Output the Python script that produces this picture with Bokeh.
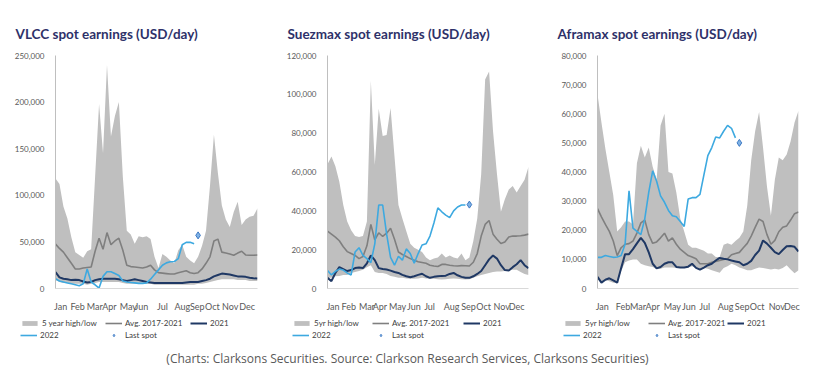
from bokeh.plotting import figure
from bokeh.models import Range1d, FixedTicker, NumeralTickFormatter, Legend, LegendItem
from bokeh.layouts import column, row
from bokeh.embed import file_html
from bokeh.resources import INLINE
from bokeh.core.properties import value

# ---------------- data (USD/day, thousands, weekly) ----------------
weeks = list(range(1, 53))
months = ["Jan", "Feb", "Mar", "Apr", "May", "Jun", "Jul", "Aug", "Sep", "Oct", "Nov", "Dec"]

vlcc_month_pos = [2.3, 6.6, 10.9, 14.6, 19.4, 22.7, 28, 33, 36.8, 40.6, 45.1, 49.4]
suez_month_pos = [2.4, 6.4, 11, 14.3, 18.8, 22.9, 26.9, 32.5, 36.8, 40.6, 45.2, 49]
afra_month_pos = [2.2, 7.5, 11.3, 15, 20, 24.2, 28.2, 33.5, 37.7, 41.5, 46.5, 50.3]

vlcc_high = [118, 112, 88, 75, 55, 39, 36, 33, 40, 42, 120, 198, 145, 240, 163, 185, 200, 120, 62, 58,
             48, 56, 55, 56, 53, 34, 22, 37, 34, 30, 27, 41, 47, 34, 30, 27, 34, 46, 62, 110,
             165, 124, 89, 74, 66, 82, 93, 68, 74, 77, 78, 86]
vlcc_low = [9, 7, 6, 6, 5, 5, 5, 5, 4, 5, 6, 7, 7, 7, 7, 7, 7, 6, 5, 5,
            5, 5, 5, 5, 5, 4, 4, 4, 4, 4, 4, 4, 4, 4, 4, 4, 5, 5, 6, 7,
            8, 9, 10, 10, 10, 10, 9, 9, 9, 8, 8, 8]
vlcc_avg = [47.7, 43, 39, 33, 27, 21, 21, 22, 22.5, 23, 40, 54, 42, 60, 47, 51, 54, 41, 25, 23.5,
            23, 22.5, 22, 23, 25, 20, 17, 16.5, 16, 15.5, 15.5, 17, 18, 19, 17, 16, 17, 21, 27, 34,
            51, 53, 39, 38, 37, 35.6, 38, 40, 36, 35.6, 35.6, 36]
vlcc_2021 = [17.6, 12, 10.4, 10, 9, 9.5, 9, 7.5, 6.5, 7, 9, 10, 10.5, 10.4, 10.4, 10.5, 10, 9, 8, 9,
             10, 9, 8, 7, 6.5, 6, 6, 6, 6, 6, 6, 6, 6, 6.5, 7, 7, 7, 8, 9, 10.5,
             13, 14.5, 16, 15.5, 15, 14, 13, 13, 12.5, 11.5, 11, 10.7]
vlcc_2022 = [10.4, 8, 7, 6, 5, 4, 3, 5, 21, 7, 4, 0.5, 13, 18, 18, 16, 14, 8, 7, 6.5,
             6, 5.5, 5.5, 6, 10, 15, 20, 25, 27.5, 28.7, 29, 32, 47, 49.5, 49.5, 48]
vlcc_last_week, vlcc_last = 37, 57

suez_high = [64, 68, 63, 55, 43, 34.5, 30, 27, 26.5, 27, 34.5, 107, 63.6, 92.6, 78.5, 79, 93, 68, 43, 36,
             29.5, 23, 21, 20, 18.8, 16, 14.6, 15.4, 16, 18, 16, 17, 16, 15.4, 18, 14.6, 16, 24.5, 36, 59,
             107.6, 111.7, 81, 59, 39.5, 46, 51, 52.8, 49.5, 52.8, 56, 62.7]
suez_low = [5.5, 5.5, 6.3, 6.5, 7, 7, 8, 8.5, 9, 9.6, 11, 12, 8.5, 8, 8, 7.5, 6.5, 6, 5.5, 5.5,
            5.2, 5, 5, 5.2, 5.5, 5.2, 5, 5, 4.8, 4.6, 4.8, 5, 5.2, 5, 4.8, 4.6, 4.8, 5.5, 6.3, 7,
            7.5, 8, 8.5, 8.8, 8.8, 9, 9.3, 9.6, 9.6, 8.5, 7.5, 7]
suez_avg = [29.5, 28, 26.5, 24.6, 21.5, 19, 18, 17, 15.4, 16.5, 22, 33, 25, 28.7, 26.8, 28.5, 31, 25.4, 18.8, 17.5,
            16.5, 15.4, 14.6, 13.8, 13.4, 13, 12, 11.6, 11.3, 12.4, 12.4, 12, 11.7, 11.6, 11.8, 11.7, 11.6, 13.5, 18, 27,
            33, 35, 28, 25.4, 23.2, 24, 26.5, 27, 27, 27.2, 27.5, 28]
suez_2021 = [5.5, 3.8, 8, 11, 10, 9, 9.5, 10.5, 10.8, 10.5, 13, 17, 14.6, 10.5, 10, 9.8, 9.2, 8.5, 8, 7,
             6.3, 5.8, 6.3, 7, 7.6, 6.3, 5.5, 6, 6.3, 6.5, 6.6, 7.5, 8, 6.8, 6, 5.5, 5.5, 6.3, 7.5, 9,
             12, 15, 17, 15.4, 12, 9.5, 9.3, 11, 12.5, 14.6, 12, 10.5]
suez_2022 = [9.3, 7, 8.8, 10, 9.5, 8, 7, 18.8, 21, 17, 15.4, 13.3, 23, 43, 43, 28, 16, 12, 16.6, 14.6,
             20.4, 18, 13, 18, 22.4, 23, 27, 33.7, 41.5, 39.5, 37.8, 36.5, 40, 42, 43, 43]
suez_last_week, suez_last = 37, 43.2

afra_high = [66.7, 57, 48, 40, 32, 19.6, 21, 23, 23, 22, 43, 49, 45, 48.4, 41.8, 37.3, 56, 60, 40, 39.5,
             33, 24, 19.6, 15, 14, 14, 13.5, 13, 12, 12, 10.8, 10.8, 15, 15.5, 15, 16.3, 17.4, 19.6, 28.5, 44,
             54, 60.6, 48.4, 35, 25, 37.3, 45, 44, 46, 50.6, 57, 61]
afra_low = [3.5, 2, 3, 2.5, 2, 2, 6, 9, 9.6, 10, 10, 8.5, 8, 7.6, 7.4, 6.8, 6.8, 7.2, 7.2, 7.2,
            7, 7, 7, 7.2, 7.6, 7, 6.4, 7, 6.8, 6.3, 5.8, 5.4, 7, 7.6, 8.5, 8, 7.2, 6.8, 6.3, 6.3,
            6.8, 7.2, 7, 6.8, 6.5, 6.8, 6.5, 7, 8, 6.5, 5.2, 6.3]
afra_avg = [27.4, 24.6, 22, 19.6, 16.3, 11.3, 14, 15.2, 15.4, 16.3, 19, 22.5, 23.5, 18.5, 15.5, 16, 17.4, 19, 16.3, 17.4,
            15.2, 13.5, 12.4, 11.3, 10.8, 10.2, 8.5, 8.5, 8.5, 9, 9.3, 9.6, 10, 10.2, 11.6, 12, 12.4, 14, 15.5, 18,
            21, 23.8, 23, 18.5, 15.2, 16.5, 19.5, 21, 21.5, 23.5, 25.7, 26.3]
afra_2021 = [4, 2, 3, 3.5, 2.8, 2, 7, 11.8, 11.8, 13.5, 15.5, 17.4, 15.7, 12.4, 8.5, 6.9, 7.4, 8.5, 9, 9,
             7.4, 7.2, 7.2, 7.5, 8.5, 7.1, 6.5, 7.2, 8, 8.5, 9.6, 10.5, 10.2, 10, 9.6, 9.3, 9, 8, 8.5, 9.5,
             11.5, 13, 16.5, 15.4, 14, 12.5, 11.8, 13.2, 14.5, 14.6, 14.3, 12.7]
afra_2022 = [10.7, 10.7, 11.3, 11, 10.7, 10.8, 11.3, 15.2, 33.5, 20.7, 19.6, 18.5, 24, 33, 40.4, 36.8, 31.8, 29.6, 26.8, 25,
             24.6, 23, 21.3, 30.7, 31.2, 31.2, 32.3, 39, 45.6, 48.4, 52, 51.7, 54, 56, 55, 51.7]
afra_last_week, afra_last = 37, 50

caption = "(Charts: Clarksons Securities. Source: Clarkson Research Services, Clarksons Securities)"

# ---------------- styling ----------------
BAND = "#BFBFBF"
AVG = "#7F7F7F"
C2021 = "#1F3864"
C2022 = "#3DA9E0"
TITLE_C = "#2E3169"
TICK_C = "#595959"
FONT = "Lato"
STY_BAND = dict(fill_color=BAND)
STY_AVG = dict(line_color=AVG, line_width=1.6)
STY_21 = dict(line_color=C2021, line_width=2)
STY_22 = dict(line_color=C2022, line_width=1.6)
STY_LAST = dict(marker="diamond", size=7, fill_color="#7FB2E5", line_color="#3C78C3", line_width=1)
NAN = [float("nan")]


def k(vals):
    return [v * 1000 for v in vals]


def panel(title, high, low, avg, y21, y22, lw, lv, ymax, ystep, month_pos, width, left, right):
    p = figure(width=width, height=314, output_backend="svg", toolbar_location=None,
               x_range=Range1d(1, 52), y_range=Range1d(0, ymax),
               min_border_left=left, min_border_right=right, min_border_top=55, min_border_bottom=18)
    p.outline_line_color = None
    p.grid.visible = False

    p.varea(x=weeks, y1=k(low), y2=k(high), **STY_BAND)
    p.line(weeks, k(avg), **STY_AVG)
    p.line(weeks, k(y21), **STY_21)
    p.line(weeks[:len(y22)], k(y22), **STY_22)
    p.scatter([lw], [lv * 1000], **STY_LAST)

    p.title.text = title
    p.title.text_font = FONT
    p.title.text_font_style = "bold"
    p.title.text_font_size = "13.5px"
    p.title.text_color = TITLE_C
    p.title.align = "left"
    p.title.offset = -40
    p.title.standoff = 27

    ya = p.yaxis[0]
    ya.ticker = FixedTicker(ticks=list(range(0, ymax + 1, ystep)))
    ya.formatter = NumeralTickFormatter(format="0,0")
    ya.axis_line_color = "#BFBFBF"
    ya.major_tick_line_color = None
    ya.minor_tick_line_color = None
    ya.major_label_text_font = FONT
    ya.major_label_text_font_size = "8px"
    ya.major_label_text_color = TICK_C
    ya.major_label_standoff = 5

    xa = p.xaxis[0]
    xa.ticker = FixedTicker(ticks=month_pos)
    xa.major_label_overrides = {pos: m for pos, m in zip(month_pos, months)}
    xa.axis_line_color = "#D9D9D9"
    xa.major_tick_line_color = None
    xa.minor_tick_line_color = None
    xa.major_label_text_font = FONT
    xa.major_label_text_font_size = "9px"
    xa.major_label_text_color = TICK_C
    xa.major_label_standoff = 6
    return p


def legend_fig(width, band_label, xs):
    lf = figure(width=width, height=32, output_backend="svg", toolbar_location=None,
                x_range=Range1d(0, 1), y_range=Range1d(0, 1), min_border=0,
                x_axis_type=None, y_axis_type=None)
    lf.outline_line_color = None
    lf.grid.visible = False
    # legend proxies: renderers holding only NaN so nothing is drawn in the frame
    r_band = lf.varea(x=NAN, y1=NAN, y2=NAN, **STY_BAND)
    r_avg = lf.line(NAN, NAN, **STY_AVG)
    r21 = lf.line(NAN, NAN, **STY_21)
    r22 = lf.line(NAN, NAN, **STY_22)
    r_last = lf.scatter(NAN, NAN, **STY_LAST)
    items = [(band_label, r_band, 19, xs[0], 18), ("Avg. 2017-2021", r_avg, 17, xs[1], 18),
             ("2021", r21, 17, xs[2], 18), ("2022", r22, 17, xs[0], 6), ("Last spot", r_last, 17, xs[1], 6)]
    for lab, r, gw, x, y in items:
        leg = Legend(items=[LegendItem(label=lab, renderers=[r])], location=(x, y),
                     background_fill_alpha=0, border_line_color=None, padding=0, margin=0,
                     glyph_width=gw, glyph_height=6, label_height=10, label_standoff=3,
                     label_text_font=FONT, label_text_font_size="8px", label_text_color="#404040")
        lf.add_layout(leg)
    return lf


f1 = panel("VLCC spot earnings (USD/day)", vlcc_high, vlcc_low, vlcc_avg, vlcc_2021, vlcc_2022,
           vlcc_last_week, vlcc_last, 250000, 50000, vlcc_month_pos, 279, 55, 22)
f2 = panel("Suezmax spot earnings (USD/day)", suez_high, suez_low, suez_avg, suez_2021, suez_2022,
           suez_last_week, suez_last, 120000, 20000, suez_month_pos, 271, 48, 22)
f3 = panel("Aframax spot earnings (USD/day)", afra_high, afra_low, afra_avg, afra_2021, afra_2022,
           afra_last_week, afra_last, 80000, 10000, afra_month_pos, 256, 47, 8)

l1 = legend_fig(279, "5 year high/low", [20, 105, 190])
l2 = legend_fig(271, "5yr high/low", [13, 93, 184])
l3 = legend_fig(256, "5yr high/low", [13, 98, 177])

cap = figure(width=806, height=24, output_backend="svg", toolbar_location=None,
             x_range=Range1d(0, 1), y_range=Range1d(0, 1), min_border=0,
             x_axis_type=None, y_axis_type=None)
cap.grid.visible = False
cap.outline_line_color = None
cap.text(x=[0.5 * 814 / 806], y=[0.5], text=[caption], text_align="center", text_baseline="middle",
         text_font=value("Open Sans"), text_font_size="12px", text_color="#595959")

layout = column(row(f1, f2, f3), row(l1, l2, l3), cap)
open("out.html", "w").write(file_html(layout, INLINE))
